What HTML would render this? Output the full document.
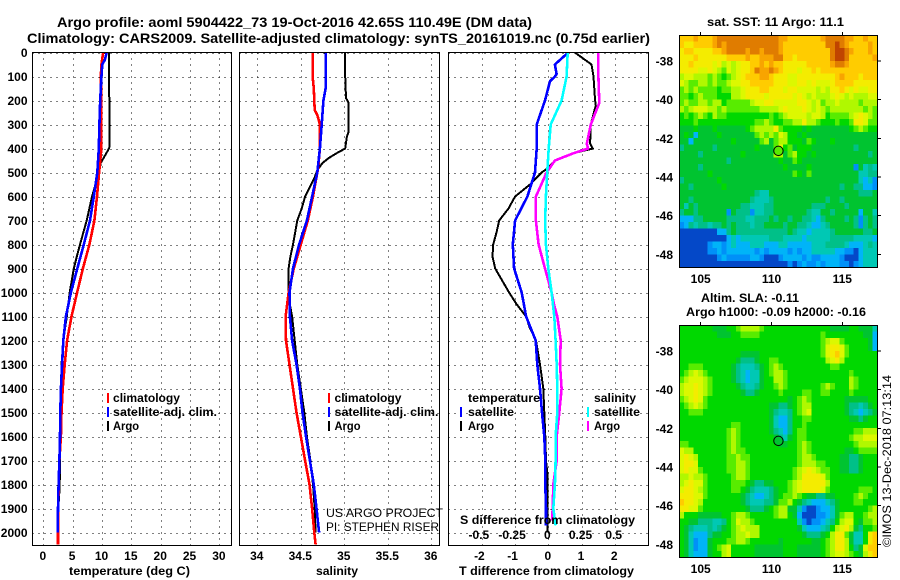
<!DOCTYPE html>
<html lang="en">
<head>
<meta charset="utf-8">
<title>Argo profile 5904422_73</title>
<style>
html,body{margin:0;padding:0;background:#fff;}
svg{display:block;}
text{font-family:"Liberation Sans",sans-serif;fill:#000;}
.b{font-weight:bold;font-size:12px;}
.t{font-weight:bold;font-size:14px;}
.r{font-size:12px;}
</style>
</head>
<body>
<svg id="chart" width="900" height="580" viewBox="0 0 900 580" xmlns="http://www.w3.org/2000/svg">
<defs>
<clipPath id="clip-temp"><rect x="32" y="52" width="199" height="493"/></clipPath>
<clipPath id="clip-sal"><rect x="240" y="52" width="199" height="493"/></clipPath>
<clipPath id="clip-diff"><rect x="448" y="52" width="200" height="493"/></clipPath>
</defs>
<rect width="900" height="580" fill="#fff"/>
<g id="map-sst"></g>
<g id="map-sla"></g>
<g id="grid"></g>
<g id="series"></g>
<g id="frames"></g>
<g id="labels"></g>

<text class="t" x="57" y="27" textLength="475" lengthAdjust="spacingAndGlyphs">Argo profile: aoml 5904422_73 19-Oct-2016 42.65S 110.49E (DM data)</text>
<text class="t" x="27" y="43" textLength="623" lengthAdjust="spacingAndGlyphs">Climatology: CARS2009. Satellite-adjusted climatology: synTS_20161019.nc (0.75d earlier)</text>

<text class="b" x="69" y="575" textLength="121" lengthAdjust="spacingAndGlyphs">temperature (deg C)</text>
<text class="b" x="316" y="575" textLength="42" lengthAdjust="spacingAndGlyphs">salinity</text>
<text class="b" x="459" y="575" textLength="175" lengthAdjust="spacingAndGlyphs">T difference from climatology</text>
<text class="b" x="460" y="524" textLength="175" lengthAdjust="spacingAndGlyphs">S difference from climatology</text>

<g>
<rect x="107" y="393" width="2" height="10" fill="#ff0000"/>
<rect x="107" y="407" width="2" height="10" fill="#0000ff"/>
<rect x="107" y="421" width="2" height="10" fill="#000"/>
<text class="b" x="113" y="402" textLength="67" lengthAdjust="spacingAndGlyphs">climatology</text>
<text class="b" x="113" y="416" textLength="104" lengthAdjust="spacingAndGlyphs">satellite-adj. clim.</text>
<text class="b" x="113" y="430" textLength="26" lengthAdjust="spacingAndGlyphs">Argo</text>
</g>
<g>
<rect x="328" y="393" width="2" height="10" fill="#ff0000"/>
<rect x="328" y="407" width="2" height="10" fill="#0000ff"/>
<rect x="328" y="421" width="2" height="10" fill="#000"/>
<text class="b" x="334.5" y="402" textLength="67" lengthAdjust="spacingAndGlyphs">climatology</text>
<text class="b" x="334.5" y="416" textLength="104" lengthAdjust="spacingAndGlyphs">satellite-adj. clim.</text>
<text class="b" x="334.5" y="430" textLength="26" lengthAdjust="spacingAndGlyphs">Argo</text>
</g>
<g>
<text class="b" x="468" y="402" textLength="72" lengthAdjust="spacingAndGlyphs">temperature</text>
<rect x="460" y="407" width="2" height="10" fill="#0000ff"/>
<rect x="460" y="421" width="2" height="10" fill="#000"/>
<text class="b" x="468" y="416" textLength="46" lengthAdjust="spacingAndGlyphs">satellite</text>
<text class="b" x="468" y="430" textLength="26" lengthAdjust="spacingAndGlyphs">Argo</text>
<text class="b" x="594" y="402" textLength="42" lengthAdjust="spacingAndGlyphs">salinity</text>
<rect x="587" y="407" width="2" height="10" fill="#00ffff"/>
<rect x="587" y="421" width="2" height="10" fill="#ff00ff"/>
<text class="b" x="594" y="416" textLength="46" lengthAdjust="spacingAndGlyphs">satellite</text>
<text class="b" x="594" y="430" textLength="26" lengthAdjust="spacingAndGlyphs">Argo</text>
</g>

<text class="r" x="326" y="517" textLength="117" lengthAdjust="spacingAndGlyphs">US ARGO PROJECT</text>
<text class="r" x="326" y="531" textLength="113" lengthAdjust="spacingAndGlyphs">PI: STEPHEN RISER</text>

<text class="b" x="707" y="26" textLength="137" lengthAdjust="spacingAndGlyphs">sat. SST: 11 Argo: 11.1</text>
<text class="b" x="701" y="302" textLength="98" lengthAdjust="spacingAndGlyphs">Altim. SLA: -0.11</text>
<text class="b" x="686" y="316" textLength="180" lengthAdjust="spacingAndGlyphs">Argo h1000: -0.09 h2000: -0.16</text>
<text class="r" transform="translate(891,547) rotate(-90)" textLength="172" lengthAdjust="spacingAndGlyphs">©IMOS 13-Dec-2018 07:13:14</text>
</svg>
<script>
const depthTicks=[0,100,200,300,400,500,600,700,800,900,1000,1100,1200,1300,1400,1500,1600,1700,1800,1900,2000];
const tempTicks=[0,5,10,15,20,25,30];
const salTicks=[34,34.5,35,35.5,36];
const tDiffTicks=[-2,-1,0,1,2];
const sDiffTicks=[-0.5,-0.25,0,0.25,0.5];
const lonTicks=[105,110,115];
const latTicks=[-38,-40,-42,-44,-46,-48];

const argoTempDepth=[0,100,200,300,390,400,430,460,500,550,600,700,800,850,900,1000,1100,1200,1300,1400,1500,1600,1700,1800,1850,1900,2000];
const argoTemp=[11.2,11.2,11.25,11.3,11.3,11.2,10.5,9.8,9.5,8.9,8.3,7.4,6.25,5.7,5.2,4.5,4.0,3.4,3.1,3.0,2.85,2.85,2.85,2.8,2.7,2.55,2.5];
const satTempDepth=[0,30,50,100,200,300,400,500,600,700,800,900,1000,1100,1200,1300,1400,1500,1600,1700,1800,1900,2000];
const satTemp=[10.8,10.5,10.05,9.9,9.7,9.55,9.45,9.2,8.6,7.95,6.9,5.8,4.7,3.85,3.4,3.2,3.0,2.9,2.85,2.75,2.6,2.5,2.45];
const climTempDepth=[0,50,100,200,300,400,500,600,700,800,900,1000,1100,1200,1300,1400,1500,1600,1700,1800,1900,2000,2050];
const climTemp=[10.2,9.9,9.8,9.9,9.9,9.9,9.5,9.15,8.7,7.85,6.75,5.75,4.8,4.05,3.65,3.3,3.1,3.0,2.75,2.6,2.55,2.5,2.5];

const argoSalDepth=[0,100,190,210,300,330,350,400,420,440,460,490,520,550,600,650,700,800,850,900,1000,1050,1100,1200,1300,1400,1500,1600,1700,1800,1900,2000];
const argoSal=[35.01,35.01,35.02,35.05,35.05,35.05,35.03,35.01,34.91,34.82,34.75,34.69,34.66,34.62,34.55,34.51,34.46,34.41,34.38,34.36,34.36,34.375,34.40,34.43,34.46,34.50,34.54,34.57,34.61,34.64,34.66,34.67];
const satSalDepth=[0,100,150,200,300,400,500,600,700,800,900,1000,1100,1200,1300,1400,1500,1600,1700,1800,1900,2000];
const satSal=[34.785,34.785,34.785,34.76,34.74,34.72,34.69,34.63,34.57,34.48,34.41,34.37,34.375,34.40,34.45,34.49,34.52,34.56,34.605,34.65,34.68,34.71];
const climSalDepth=[0,100,150,200,240,260,300,400,480,500,600,700,800,900,1000,1100,1200,1300,1400,1500,1600,1700,1800,1900,2000,2050];
const climSal=[34.636,34.636,34.65,34.655,34.66,34.69,34.72,34.72,34.70,34.69,34.64,34.58,34.50,34.42,34.36,34.325,34.33,34.37,34.41,34.45,34.50,34.55,34.60,34.63,34.655,34.67];

const argoDTDepth=[0,20,50,100,200,220,300,380,400,420,450,480,500,550,600,650,700,750,800,850,900,1000,1050,1100,1150,1200,1300,1400,1500,1600,1700,1750,1800,1900,2000];
const argoDT=[0.8,1.0,1.3,1.36,1.41,1.43,1.28,1.26,1.34,0.75,0.2,0,-0.2,-0.55,-1.0,-1.2,-1.48,-1.56,-1.66,-1.68,-1.6,-1.18,-0.95,-0.67,-0.55,-0.37,-0.25,-0.15,-0.12,-0.09,-0.07,-0.03,-0.02,-0.02,-0.03];
const satDTDepth=[0,50,90,100,120,200,300,400,500,600,700,800,900,1000,1100,1200,1300,1400,1500,1600,1700,1800,1900,1970];
const satDT=[0.6,0.2,0.25,0.2,0.05,-0.1,-0.35,-0.35,-0.4,-0.63,-1.0,-1.07,-1.03,-0.8,-0.67,-0.38,-0.33,-0.25,-0.19,-0.12,-0.09,-0.09,-0.07,-0.07];
const argoDSDepth=[0,100,210,300,380,400,420,450,500,600,700,800,900,1000,1050,1100,1200,1300,1400,1500,1600,1700,1800,1900,1950];
const argoDS=[0.377,0.377,0.384,0.32,0.29,0.30,0.188,0.05,-0.013,-0.093,-0.093,-0.073,-0.025,0.025,0.043,0.068,0.093,0.088,0.10,0.083,0.063,0.063,0.038,0.033,0.028];
const satDSDepth=[0,100,200,300,400,500,600,700,800,900,1000,1100,1200,1300,1400,1500,1600,1700,1800,1900,1970];
const satDS=[0.146,0.138,0.10,0.018,0.003,-0.008,-0.018,-0.023,-0.018,0,0.025,0.045,0.055,0.063,0.068,0.068,0.055,0.055,0.05,0.038,0.055];

const sstLevels=[
[11,11,11,12,11,11,11,12,13,13,13,13,13,13,13,13,13,13,13,13,13,12,12,11,11,11,11,11,11,11,12,13,13,13,13,12,12,11,11,12,11,11],
[11,10,10,11,11,11,11,12,13,12,13,13,13,13,13,13,13,13,13,13,13,12,11,11,11,11,11,11,11,11,11,13,13,14,13,12,11,11,11,11,12,11],
[10,11,11,10,10,10,10,11,11,12,13,13,13,13,12,13,13,12,13,13,13,12,11,11,11,11,11,11,11,11,11,11,13,14,14,13,12,11,11,11,12,11],
[10,10,10,11,10,10,10,10,10,10,11,11,11,11,12,11,11,12,12,12,13,13,11,11,10,11,11,11,11,11,11,11,13,14,14,13,11,11,11,11,11,12],
[10,10,11,10,10,10,10,9,10,8,9,8,9,10,10,11,11,12,11,12,11,11,10,10,10,10,10,11,11,11,11,11,12,13,13,12,11,11,11,11,11,11],
[10,10,10,10,9,9,10,9,8,7,9,8,9,10,10,11,13,12,12,13,12,11,10,10,10,9,10,10,11,10,11,11,11,11,11,11,11,11,11,11,11,11],
[8,9,9,8,8,8,7,8,7,6,7,8,9,10,11,11,11,12,12,11,10,10,10,9,9,10,10,10,10,10,10,10,10,11,12,11,11,11,10,11,11,11],
[9,8,7,7,8,8,7,8,7,7,8,9,9,10,10,11,11,11,11,11,10,10,10,9,9,10,10,9,10,9,9,9,10,11,11,11,11,10,10,10,10,10],
[7,8,7,8,7,7,7,7,6,7,7,8,8,9,10,10,10,11,11,10,10,10,9,10,10,9,9,9,9,8,9,8,10,10,11,10,9,10,9,9,10,10],
[7,7,6,7,8,7,7,7,6,6,6,8,8,9,10,10,10,10,9,10,10,10,10,10,9,10,9,8,9,8,8,8,9,10,9,8,9,8,8,8,9,9],
[7,8,7,7,8,8,7,8,8,6,7,7,7,7,7,8,9,9,10,10,9,9,9,9,9,10,10,9,8,9,7,8,8,9,8,8,8,8,7,8,8,8],
[8,7,8,9,9,9,8,8,7,8,7,7,7,7,7,7,7,8,8,8,8,9,10,9,9,9,10,9,8,9,8,7,8,8,8,8,8,8,8,7,8,7],
[6,7,6,7,8,7,6,8,7,7,6,6,6,6,6,6,6,6,6,7,6,7,8,9,9,9,9,8,9,9,8,6,7,7,7,7,8,9,10,9,8,7],
[6,6,6,7,6,6,6,6,6,6,6,6,6,6,6,6,7,7,8,7,6,6,7,7,8,8,10,8,8,7,6,6,6,7,6,6,7,10,10,9,7,7],
[5,5,5,6,5,5,5,6,5,5,5,5,5,5,6,7,8,8,8,8,10,7,6,6,6,6,5,6,5,5,5,5,5,5,5,5,6,7,8,7,6,6],
[5,6,5,2,5,5,5,5,6,5,5,5,5,5,5,5,7,8,7,8,7,9,8,6,6,5,6,5,5,5,5,5,5,5,5,5,5,5,5,5,5,5],
[5,5,2,5,5,5,5,5,5,5,5,6,5,5,5,5,5,7,8,5,7,8,8,6,6,6,5,7,6,5,5,5,6,5,5,5,5,5,5,5,5,5],
[4,5,5,5,5,5,5,4,5,5,5,5,5,5,5,5,6,5,5,5,7,9,6,7,5,6,6,6,5,5,5,5,5,5,5,5,5,4,5,5,5,5],
[5,5,5,5,4,5,5,5,5,5,5,5,5,6,5,5,5,5,5,5,8,8,5,7,8,6,6,5,6,5,5,5,5,5,5,5,5,5,5,5,4,5],
[5,5,5,5,5,5,5,5,5,5,4,5,5,5,5,5,5,5,5,5,5,6,5,5,7,6,5,5,5,5,5,5,5,5,5,5,5,5,5,5,5,5],
[5,5,5,5,4,5,5,5,5,5,5,5,5,5,5,5,5,5,5,5,5,5,6,5,5,5,5,6,5,5,5,5,5,5,5,5,5,1,5,3,4,3],
[5,5,5,5,5,5,6,5,5,5,5,5,5,5,5,5,5,5,5,5,5,5,5,5,7,6,5,7,5,5,5,5,5,5,5,5,5,5,3,3,4,4],
[4,5,5,5,5,5,5,5,6,5,5,5,5,5,5,5,5,5,5,5,5,5,5,5,5,5,5,5,5,5,5,5,5,5,5,5,5,5,3,2,3,1],
[5,5,4,5,5,5,5,5,5,6,5,5,5,5,5,5,5,5,5,5,5,5,5,5,5,5,5,5,5,5,5,5,5,5,4,5,5,4,4,2,2,1],
[5,5,5,5,5,5,5,5,5,5,5,5,5,5,5,5,4,3,3,5,5,5,5,5,5,5,5,5,5,5,5,5,5,5,5,5,5,5,4,4,4,5],
[5,5,4,5,5,5,5,5,5,5,5,5,5,5,5,4,3,3,3,4,5,5,5,5,5,5,5,5,5,5,5,4,5,5,4,5,5,5,5,5,5,5],
[5,3,5,4,5,5,5,5,5,5,5,5,5,4,4,3,3,3,4,4,5,5,5,5,5,5,5,5,4,4,4,5,5,5,5,4,5,5,5,5,5,5],
[4,5,5,4,5,5,5,5,5,5,1,5,4,4,4,1,3,3,4,4,5,5,5,5,5,5,5,4,3,3,5,5,4,5,5,5,5,5,2,5,5,3],
[2,2,2,4,4,5,5,5,5,5,4,4,4,4,3,3,4,4,4,5,4,5,5,4,5,5,4,4,3,2,4,5,5,5,5,4,5,4,1,4,5,4],
[1,2,4,3,4,4,3,4,4,5,4,5,4,4,4,3,4,4,5,5,5,5,4,5,5,4,4,3,2,2,3,4,5,5,5,5,5,4,1,4,5,4],
[0,0,0,0,0,0,0,0,2,2,4,5,4,4,4,4,4,4,4,4,4,4,4,5,4,3,3,2,3,3,3,3,4,5,5,5,5,5,5,4,4,5],
[0,0,0,0,0,0,0,0,0,0,2,3,2,3,3,3,3,3,3,4,4,4,3,3,3,3,2,3,3,3,3,3,4,4,4,4,4,3,3,3,3,2],
[0,0,0,0,0,0,1,2,2,1,2,3,2,2,2,3,3,3,2,2,2,3,3,2,2,2,2,2,3,3,3,4,4,4,4,3,2,2,2,3,4,3],
[0,0,0,0,0,0,1,1,2,1,2,2,2,2,2,2,1,2,1,2,2,2,2,1,2,1,2,2,3,3,3,3,3,2,2,1,1,0,2,3,3,3],
[0,0,0,0,0,0,0,0,1,2,1,1,1,1,1,2,2,1,0,0,0,1,2,2,2,2,1,2,1,1,2,2,2,2,1,0,0,0,2,3,3,3],
[0,0,0,0,0,0,0,0,0,0,0,0,0,0,0,0,0,0,0,0,0,0,0,1,0,1,2,1,1,2,1,2,2,2,1,1,0,1,2,3,3,3]
];
const slaLevels=[
[6,6,6,6,6,6, 6,5,5,5,6,6, 7,8,8,8,8,7, 6,6,6,6,6,6, 6,6,6,6,6,6, 6,6,5,5,5,5, 6,6,5,5,5,3],
[6,6,6,6,6,6, 6,6,5,5,5,6, 6,7,7,7,7,6, 6,6,6,6,6,6, 6,6,6,6,6,6, 7,6,6,6,6,6, 6,6,6,5,5,2],
[6,6,6,6,6,6, 6,6,6,6,6,6, 6,6,6,6,6,6, 6,6,6,6,6,6, 6,6,6,6,6,6, 7,8,9,9,7,6, 6,6,6,6,5,2],
[6,6,6,6,6,6, 6,6,6,6,6,6, 6,6,6,6,6,6, 6,6,6,6,6,6, 6,6,6,6,6,6, 7,9,10,10,9,7, 6,6,6,6,5,2],
[6,6,6,6,6,6, 6,6,6,6,6,6, 6,5,5,5,5,6, 6,6,6,6,6,6, 6,6,6,6,6,6, 7,9,10,11,9,7, 6,6,6,6,6,6],
[6,6,6,6,6,6, 6,6,6,6,6,6, 5,4,4,4,5,6, 6,7,7,6,6,6, 6,6,6,6,6,6, 6,8,9,10,8,6, 6,6,6,6,6,6],
[6,6,7,7,7,6, 6,6,6,6,6,5, 4,3,3,3,4,5, 6,7,8,7,6,6, 6,6,6,6,6,6, 6,6,7,7,6,6, 6,6,6,6,6,6],
[6,7,8,9,8,7, 6,6,6,6,6,5, 4,3,2,3,3,5, 6,7,8,8,7,6, 6,6,6,6,6,6, 6,6,6,6,6,6, 7,6,6,6,6,6],
[7,8,9,9,9,8, 7,6,6,6,6,5, 4,3,2,3,3,5, 6,6,8,8,7,6, 6,6,6,6,6,6, 6,6,6,6,6,6, 8,7,6,6,6,6],
[8,9,9,10,9,8, 7,6,6,6,6,6, 5,4,3,3,4,5, 6,6,7,8,7,6, 6,6,6,6,6,6, 7,8,7,6,6,6, 8,7,6,6,6,6],
[8,9,9,10,9,8, 7,6,6,6,6,6, 6,5,4,4,5,6, 6,6,6,7,6,6, 6,6,7,7,6,6, 7,7,6,6,6,6, 7,6,6,6,6,6],
[7,8,9,10,9,7, 6,6,6,6,6,6, 6,6,6,6,6,6, 6,6,6,6,6,5, 6,7,8,7,6,6, 6,6,6,6,6,5, 5,5,5,5,6,6],
[6,7,8,9,8,7, 6,6,6,6,6,6, 6,6,6,6,6,6, 6,5,5,4,4,5, 6,7,8,8,6,6, 6,6,6,6,6,5, 4,4,3,4,5,6],
[6,6,7,7,7,6, 6,6,6,6,6,6, 6,6,6,6,6,6, 6,5,4,3,3,4, 6,7,8,9,6,6, 6,6,6,6,6,5, 4,3,2,3,4,5],
[6,6,6,6,6,6, 6,6,6,6,6,6, 6,6,6,6,6,6, 6,5,3,2,2,4, 6,6,7,7,6,6, 6,6,6,6,6,6, 5,5,4,5,6,6],
[6,6,6,6,6,6, 6,6,6,6,6,7, 7,6,6,6,6,6, 6,5,3,2,2,4, 6,6,7,6,6,6, 6,6,6,6,6,6, 6,6,6,6,6,6],
[6,6,6,6,6,6, 6,6,6,6,7,8, 7,6,6,6,6,6, 6,5,4,3,2,4, 6,7,7,6,6,6, 6,6,6,6,6,6, 6,7,7,8,8,8],
[6,6,6,6,6,6, 6,6,6,6,7,8, 7,6,6,6,6,6, 6,6,5,4,3,5, 6,7,7,6,6,6, 6,6,6,6,6,6, 7,8,8,9,9,9],
[7,7,6,6,6,6, 6,6,6,6,7,8, 7,6,6,6,6,6, 6,6,6,5,5,6, 6,7,8,7,6,6, 6,6,6,6,6,6, 6,7,8,8,8,8],
[9,8,8,6,6,6, 6,6,6,6,7,8, 7,7,6,6,6,6, 6,6,6,6,6,6, 6,7,8,7,6,6, 6,6,6,6,6,5, 5,6,7,7,7,7],
[9,10,9,8,6,6, 6,6,6,6,7,7, 8,7,7,6,6,6, 6,6,6,6,6,6, 6,7,8,8,7,6, 6,6,6,6,5,5, 4,4,5,6,6,6],
[9,10,10,9,6,6, 6,6,6,6,7,7, 8,8,7,6,6,6, 6,6,6,6,6,6, 6,7,8,8,8,7, 7,6,6,6,5,5, 4,4,5,6,6,6],
[9,10,9,9,7,6, 6,6,6,6,7,7, 8,8,7,6,6,6, 6,6,6,6,6,6, 7,8,9,10,9,8, 7,7,6,6,5,5, 4,4,5,6,6,6],
[8,8,9,8,8,7, 6,6,6,6,6,7, 8,8,7,6,6,6, 6,6,6,6,6,6, 7,8,10,10,10,10, 9,7,6,6,6,6, 6,6,6,6,6,6],
[8,9,10,9,9,7, 6,6,6,6,6,7, 7,7,6,5,4,4, 5,5,6,6,6,7, 8,9,10,10,10,10, 10,8,6,6,6,6, 6,6,6,6,6,6],
[9,10,10,9,8,7, 6,6,6,6,6,7, 7,6,5,4,3,3, 3,4,5,6,6,7, 8,9,10,10,10,10, 9,7,6,6,6,6, 6,6,7,7,7,6],
[10,10,10,9,9,7, 6,6,6,6,6,6, 6,5,4,3,2,2, 3,4,5,6,7,7, 8,7,6,5,5,4, 4,5,5,6,6,6, 6,7,8,7,6,6],
[11,10,10,9,8,6, 6,6,6,6,6,6, 6,5,4,3,3,3, 4,4,5,7,7,8, 6,5,4,3,2,2, 2,3,4,5,6,6, 6,7,7,6,6,6],
[10,10,9,9,7,6, 6,6,6,6,6,6, 6,6,5,4,4,4, 5,6,7,8,8,5, 5,3,1,0,0,1, 2,2,3,5,6,6, 6,6,6,6,7,8],
[8,6,6,6,5,5, 5,5,5,6,6,7, 8,8,7,6,6,6, 6,6,7,8,8,6, 5,2,0,0,0,1, 1,2,3,5,7,8, 8,6,6,7,8,8],
[6,6,5,5,4,4, 4,3,3,4,6,7, 9,8,8,7,6,6, 6,6,6,6,6,6, 6,3,1,0,1,1, 2,3,4,6,8,9, 9,6,5,7,7,8],
[6,5,4,3,3,3, 4,3,4,5,6,7, 8,9,8,8,8,6, 6,6,6,6,6,6, 6,5,3,2,2,2, 3,4,6,8,9,10, 8,5,4,6,6,7],
[6,5,3,2,2,2, 4,5,5,6,6,7, 8,8,9,8,8,6, 6,6,6,6,6,6, 6,6,5,4,4,4, 5,6,8,10,10,7, 5,3,3,6,10,11],
[6,5,3,1,2,2, 5,6,6,6,7,7, 8,8,7,6,6,6, 6,6,6,5,6,6, 6,6,6,6,5,5, 6,7,8,10,10,8, 5,3,3,6,10,11],
[6,5,3,1,2,2, 5,6,7,8,9,6, 6,6,6,6,5,5, 5,5,5,5,6,6, 6,5,5,5,5,5, 6,7,8,10,10,8, 6,4,5,9,11,11],
[6,5,3,2,2,2, 5,6,6,8,9,6, 6,6,6,6,5,5, 5,5,5,5,6,6, 6,5,5,5,5,5, 6,7,8,9,9,8, 7,6,5,8,10,11]
];
const heatColors=['#0448c8','#0090f8','#00b4f8','#00c8b4','#00c088','#00c430','#00d800','#58ec00','#b0f800','#dcf800','#f4ec00','#ffcc00','#f8a400','#e07c00','#c04400'];
const markerLon=110.49;
const markerLat=-42.65;

var NS='http://www.w3.org/2000/svg';
function mk(tag,attrs,parent){
  var el=document.createElementNS(NS,tag);
  for(var k in attrs){el.setAttribute(k,attrs[k]);}
  parent.appendChild(el);
  return el;
}
var yDepth=function(d){return 52.5+0.24*d;};
var xTemp=function(v){return 43.3+5.87*v;};
var xSal=function(v){return 257.3+87*(v-34);};
var xDT=function(v){return 548.3+33.2*v;};
var xDS=function(v){return 548.3+132.8*v;};
var labelX=function(x,v){return v<0?x-2.5:x-0.5;};
var grid=document.getElementById('grid');
var series=document.getElementById('series');
var frames=document.getElementById('frames');
var labels=document.getElementById('labels');

function addText(str,x,y,anchor,name){
  var t=mk('text',{x:x,y:y,'text-anchor':anchor,'class':'b'},labels);
  
  
  t.textContent=str;
}
function gridLine(x1,y1,x2,y2){
  var l=mk('line',{x1:x1,y1:y1,x2:x2,y2:y2,stroke:'#000','stroke-width':1,'stroke-dasharray':'1 5','shape-rendering':'crispEdges'},grid);
  
  
}
function panel(left,right,ticks,xf,name){
  ticks.forEach(function(t){
    gridLine(Math.round(xf(t))+0.5,52.5,Math.round(xf(t))+0.5,545.5);
    addText(String(t),labelX(xf(t),t),560,'middle',name+'-x-tick');
  });
  depthTicks.forEach(function(d){
    gridLine(left,Math.round(yDepth(d))+0.5,right,Math.round(yDepth(d))+0.5);
  });
  var f=mk('rect',{x:left,y:52.5,width:right-left,height:493,fill:'none',stroke:'#000','stroke-width':1,'shape-rendering':'crispEdges'},frames);
  
  
}
function line(depths,vals,xf,color,width,clip,name){
  var pts=depths.map(function(d,i){return xf(vals[i]).toFixed(1)+','+yDepth(d).toFixed(1);}).join(' ');
  var p=mk('polyline',{points:pts,fill:'none',stroke:color,'stroke-width':width,'clip-path':'url(#'+clip+')','shape-rendering':'crispEdges','stroke-linejoin':'round'},series);
  
  
}
panel(32.5,231.5,tempTicks,xTemp,'temperature');
panel(239.5,439.5,salTicks,xSal,'salinity');
panel(448.5,648.5,tDiffTicks,xDT,'t-difference');
depthTicks.forEach(function(d){addText(String(d),27.5,yDepth(d)+4.5,'end','depth-tick');});
sDiffTicks.forEach(function(s){addText(String(s),labelX(xDS(s),s)-0.5,539,'middle','s-difference-tick');});

line(argoTempDepth,argoTemp,xTemp,'#000',2,'clip-temp','argo-temperature-line');
line(climTempDepth,climTemp,xTemp,'#ff0000',2.6,'clip-temp','climatology-temperature-line');
line(satTempDepth,satTemp,xTemp,'#0000ff',2.6,'clip-temp','satellite-temperature-line');
line(argoSalDepth,argoSal,xSal,'#000',2,'clip-sal','argo-salinity-line');
line(climSalDepth,climSal,xSal,'#ff0000',2.6,'clip-sal','climatology-salinity-line');
line(satSalDepth,satSal,xSal,'#0000ff',2.6,'clip-sal','satellite-salinity-line');
line(argoDTDepth,argoDT,xDT,'#000',2,'clip-diff','argo-t-difference-line');
line(satDTDepth,satDT,xDT,'#0000ff',2.6,'clip-diff','satellite-t-difference-line');
line(argoDSDepth,argoDS,xDS,'#ff00ff',2.6,'clip-diff','argo-s-difference-line');
line(satDSDepth,satDS,xDS,'#00ffff',2.6,'clip-diff','satellite-s-difference-line');

function drawMap(groupId,levels,top,prefix,markerFill){
  var g=document.getElementById(groupId);
  var left=679.3,w=198,h=232.3;
  var cols=levels[0].length,rows=levels.length;
  var cw=w/cols,ch=h/rows;
  levels.forEach(function(row,r){
    row.forEach(function(v,c){
      var cell=mk('rect',{x:(left+c*cw).toFixed(2),y:(top+r*ch).toFixed(2),width:(cw+0.4).toFixed(2),height:(ch+0.4).toFixed(2),fill:heatColors[v],'shape-rendering':'crispEdges'},g);
      
      
    });
  });
  var xLon=function(l){return 700.7+14.16*(l-105);};
  var yLat=function(l){return top+26+19.33*(-38-l);};
  var fr=mk('rect',{x:679.5,y:top+0.5,width:198,height:232,fill:'none',stroke:'#000','stroke-width':1,'shape-rendering':'crispEdges'},g);
  
  
  lonTicks.forEach(function(l){
    var tk=mk('line',{x1:xLon(l),y1:top-3,x2:xLon(l),y2:top,stroke:'#000','stroke-width':1,'shape-rendering':'crispEdges'},g);
    
    
    addText(String(l),xLon(l),top+248,'middle',prefix+'-lon-label');
  });
  latTicks.forEach(function(l){
    var tk=mk('line',{x1:878,y1:yLat(l),x2:881,y2:yLat(l),stroke:'#000','stroke-width':1,'shape-rendering':'crispEdges'},g);
    
    
    addText(String(l),673,yLat(l)+4.5,'end',prefix+'-lat-label');
  });
  var m=mk('circle',{cx:xLon(markerLon),cy:yLat(markerLat),r:4.7,fill:markerFill,stroke:'#000','stroke-width':1},g);
  
  
}
drawMap('map-sst',sstLevels,35,'sst',heatColors[7]);
drawMap('map-sla',slaLevels,325,'sla',heatColors[5]);
</script>
</body>
</html>
